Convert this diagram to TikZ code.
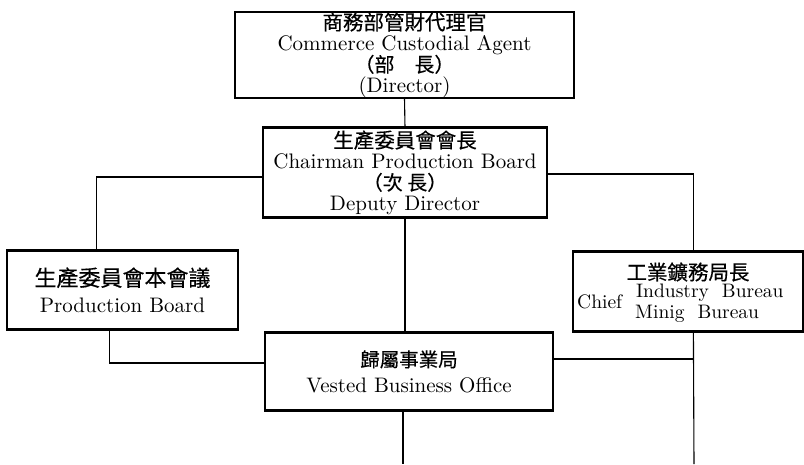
\documentclass[tikz,border=0pt]{standalone}
\usepackage{fontspec}
\setmainfont{lmroman10-regular.otf}
\newfontfamily\cjk[FakeBold=0.4]{Noto Sans CJK TC}
\usetikzlibrary{calc}
\newcommand{\cjksz}[1]{\fontsize{#1}{20.3}\selectfont\cjk}
\begin{document}
\lineskiplimit=-50pt\relax
\begin{tikzpicture}[x=1pt,y=-1pt,
  orgbox/.style={draw, line width=1.2pt, inner sep=0pt, align=center,
    font=\fontsize{21}{20.3}\selectfont},
  txt/.style={inner sep=0pt, font=\fontsize{19.5}{20}\selectfont},
  boxedge/.style={line width=2.6pt},
  link/.style={line width=1.1pt}]
\fill[white] (0,0) rectangle (804,464);
\useasboundingbox (0,0) rectangle (804,464);

% boxes
\node[orgbox, minimum width=339pt, minimum height=84pt] (top) at (404.5,55)
  {{\cjksz{20.5}商務部管財代理官}\\Commerce Custodial Agent\\[1.5pt]{\cjksz{20}（部　長）}\\(Director)};
\node[orgbox, minimum width=284pt, minimum height=89pt] (chair) at (405,172.5)
  {{\cjksz{20.5}生產委員會會長}\\Chairman Production Board\\[1.5pt]{\cjksz{20}（次 長）}\\Deputy Director};
\node[orgbox, minimum width=231pt, minimum height=78pt] (lb) at (122.5,290)
  {{\cjksz{22}生產委員會本會議}\\[6pt]Production Board};
\node[orgbox, minimum width=230pt, minimum height=79pt] (rb) at (688,291.5) {};
\node[orgbox, minimum width=288pt, minimum height=77pt] (vb) at (409,371.5)
  {{\cjksz{19.5}歸屬事業局}\\[5pt]Vested Business Office};

% text of the right box
\node[inner sep=0pt, font=\fontsize{20.5}{20}\selectfont] (rbt) at (688,272) {\cjk 工業鑛務局長};
\node[txt, anchor=base west] (rbi) at (636,297.5) {Industry\ \ Bureau};
\node[txt, anchor=base west] (rbm) at (635,318) {Minig\ \ Bureau};
\node[txt, anchor=base west] (rbc) at (577,308) {Chief};

% thick top and bottom edges
\foreach \n in {top,chair,lb,rb,vb}{
  \draw[boxedge] (\n.north west) -- (\n.north east)
                 (\n.south west) -- (\n.south east);
}

% connectors
\coordinate (rbot) at (694,464);
\coordinate (cbot) at (403,464);
\draw[link] (top.south) -- (chair.north);
\draw[link] ($(chair.west)+(0,4.5)$) -| ($(lb.north west)+(90,0)$);
\draw[link] ($(chair.east)+(0,1.5)$) -| ($(rb.north west)+(121,0)$);
\draw[link] (chair.south) -- (chair.south |- vb.north);
\draw[link] ($(lb.south west)+(103,0)$) |- ($(vb.west)+(0,-8.5)$);
\draw[link] ($(vb.east)+(0,-12.5)$) coordinate (h) -- (h -| rbot);
\draw[link] ($(rb.south west)+(121,0)$) -- (rbot);
\draw[line width=1.6pt] (vb.south -| cbot) -- (cbot);
\end{tikzpicture}
\end{document}
